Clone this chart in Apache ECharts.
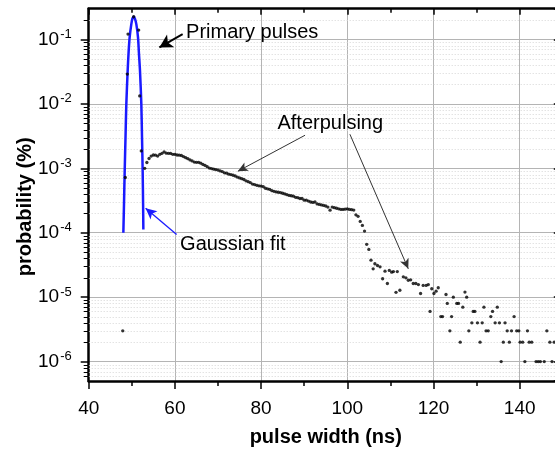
<!DOCTYPE html>
<html><head><meta charset="utf-8">
<script src="https://cdn.jsdelivr.net/npm/echarts@6/dist/echarts.min.js"></script>
<style>html,body{margin:0;padding:0;background:#fff;overflow:hidden}#c{width:555px;height:449px}</style>
</head><body><div id="c"></div><script>
// ---- data ----
const xTickValues = [40, 60, 80, 100, 120, 140];
const yDecades = [1e-6, 1e-5, 1e-4, 1e-3, 1e-2, 1e-1];
// measured primary pulse data (pulse width ns, probability %)
const primaryX = [47.9, 48.5, 48.96, 49.12, 50.43, 51.6, 51.83, 52.2];
const primaryY = [3e-6, 7.2e-4, 0.029, 0.121, 0.225, 0.14, 0.0133, 1.86e-3];
// afterpulsing data
const afterX = [53.0,53.5,54.0,54.5,55.0,55.5,56.0,56.5,57.0,57.5,58.0,58.5,59.0,59.5,60.0,60.5,61.0,61.5,62.0,62.5,63.0,63.5,64.0,64.5,65.0,65.5,66.0,66.5,67.0,67.5,68.0,68.5,69.0,69.5,70.0,70.5,71.0,71.5,72.0,72.5,73.0,73.5,74.0,74.5,75.0,75.5,76.0,76.5,77.0,77.5,78.0,78.5,79.0,79.5,80.0,80.5,81.0,81.5,82.0,82.5,83.0,83.5,84.0,84.5,85.0,85.5,86.0,86.5,87.0,87.5,88.0,88.5,89.0,89.5,90.0,90.5,91.0,91.5,92.0,92.5,93.0,93.5,94.0,94.5,95.0,95.5,96.0,96.5,97.0,97.5,98.0,98.5,99.0,99.5,100.0,100.5,101.0,101.5,102.0,102.5,103.0,103.5,104.0,104.5,105.0,105.5,106.0,106.4,107.0,107.6,108.2,108.75,109.3,109.75,110.3,110.7,111.3,111.6,112.2,113.0,113.6,114.15,114.7,115.3,115.9,116.5,117.0,117.6,118.3,118.8,119.2,119.6,120.1,120.6,121.1,121.7,122.1,122.9,123.2,123.8,124.2,124.6,125.4,125.8,126.2,126.8,127.3,127.7,128.2,128.9,129.2,129.6,130.2,130.8,131.3,131.7,132.2,132.7,133.3,133.7,134.3,134.8,135.3,135.7,136.2,136.6,137.1,137.6,138.1,138.7,139.3,139.8,140.1,140.7,141.2,141.8,142.2,142.8,143.8,144.3,144.8,145.7,146.3,147.0,147.5,148.0];
const afterY = [1.0e-3,1.23e-3,1.42e-3,1.55e-3,1.61e-3,1.6e-3,1.55e-3,1.65e-3,1.71e-3,1.8e-3,1.72e-3,1.71e-3,1.7e-3,1.65e-3,1.65e-3,1.61e-3,1.6e-3,1.58e-3,1.52e-3,1.46e-3,1.41e-3,1.35e-3,1.3e-3,1.25e-3,1.24e-3,1.24e-3,1.2e-3,1.15e-3,1.11e-3,1.06e-3,1.01e-3,0.99e-3,0.97e-3,0.955e-3,0.94e-3,0.91e-3,0.89e-3,0.85e-3,0.84e-3,0.81e-3,0.8e-3,0.78e-3,0.76e-3,0.73e-3,0.71e-3,0.69e-3,0.67e-3,0.64e-3,0.62e-3,0.6e-3,0.57e-3,0.56e-3,0.545e-3,0.535e-3,0.53e-3,0.52e-3,0.49e-3,0.48e-3,0.47e-3,0.45e-3,0.44e-3,0.43e-3,0.425e-3,0.42e-3,0.41e-3,0.4e-3,0.39e-3,0.38e-3,0.375e-3,0.37e-3,0.355e-3,0.35e-3,0.34e-3,0.34e-3,0.32e-3,0.32e-3,0.31e-3,0.3e-3,0.295e-3,0.3e-3,0.28e-3,0.275e-3,0.27e-3,0.265e-3,0.26e-3,0.25e-3,0.224e-3,0.25e-3,0.245e-3,0.24e-3,0.235e-3,0.23e-3,0.23e-3,0.232e-3,0.235e-3,0.23e-3,0.228e-3,0.225e-3,1.9e-4,1.8e-4,1.5e-4,1.3e-4,1.06e-4,6.6e-5,5.5e-5,3.75e-5,2.75e-5,3.3e-5,3.1e-5,2.96e-5,1.93e-5,2.53e-5,1.63e-5,2.6e-5,2.44e-5,2.5e-5,1.19e-5,2.5e-5,1.28e-5,2.07e-5,2.0e-5,1.83e-5,1.86e-5,1.63e-5,1.63e-5,1.57e-5,1.14e-5,1.52e-5,1.52e-5,1.57e-5,6e-6,1.35e-5,1.14e-5,1.24e-5,1.4e-5,5e-6,5e-6,1.1e-5,8e-6,3e-6,5e-6,1e-5,8e-6,8e-6,2e-6,7e-6,1.2e-5,1e-5,3e-6,4e-6,6e-6,6e-6,4e-6,2e-6,4e-6,7e-6,3e-6,3e-6,5e-6,6e-6,4e-6,7e-6,4e-6,1e-6,2e-6,4e-6,3e-6,2e-6,3e-6,5e-6,3e-6,3e-6,2e-6,2e-6,1e-6,3e-6,2e-6,2e-6,1e-6,1e-6,1e-6,1e-6,3e-6,2e-6,1e-6,2e-6];
// Gaussian fit curve as drawn
const fitX = [48.04,48.19,48.35,48.55,48.73,49.04,49.25,49.5,49.89,50.15,50.43,50.7,51.05,51.44,51.65,51.9,52.21,52.37,52.52,52.62,52.68];
const fitY = [1.0e-4,2.8e-4,9.1e-4,3.2e-3,9.9e-3,0.0326,0.062,0.108,0.173,0.212,0.225,0.212,0.173,0.108,0.062,0.0326,9.9e-3,3.0e-3,9.1e-4,2.8e-4,1.12e-4];
// log minor tick values (2..9 within each decade)
const minorMultipliers = [2,3,4,5,6,7,8,9];
const annotations = {
  primary: {text: 'Primary pulses', at: [62.6, 0.129], from: [61.8, 0.121], to: [56.4, 0.0753]},
  after: {text: 'Afterpulsing', at: [83.8, 5.0e-3], from1: [90.2, 3.26e-3], to1: [74.6, 9.0e-4], from2: [100.6, 3.38e-3], to2: [114.15, 2.75e-5]},
  gauss: {text: 'Gaussian fit', at: [61.2, 6.6e-5], from: [60.4, 9.4e-5], to: [53.2, 2.39e-4]}
};
const X_MIN = 40, X_MAX = 150, Y_MIN = 5e-7, Y_MAX = 0.3;

// ---- build ----
const FONT = "'Liberation Sans', Arial, sans-serif";
const minorVals = [];
[1e-7].concat(yDecades).forEach(d => minorMultipliers.forEach(m => {
  const v = m * d; if (v > Y_MIN && v < Y_MAX * 0.999) minorVals.push(v);
}));
const zip = (a, b) => a.map((v, i) => [v, b[i]]);

const chart = echarts.init(document.getElementById('c'), null, {renderer: 'canvas'});
function yLabel(v) {
  const e = Math.log10(v);
  if (Math.abs(e - Math.round(e)) > 1e-6) return '';
  return '{b|10}{s|' + Math.round(e) + '}';
}
const txt = (t, at) => ({coord: at, symbolSize: 0, label: {show: true, formatter: t, position: 'right', distance: 0, fontSize: 20, fontFamily: FONT, color: '#000'}});

chart.setOption({
  animation: false,
  backgroundColor: '#fff',
  grid: {left: 88.7, right: -7.8, top: 8.7, bottom: 68, outerBoundsMode: 'none', containLabel: false},
  xAxis: [{
    type: 'value', min: X_MIN, max: X_MAX, interval: 20, position: 'bottom',
    axisLine: {lineStyle: {color: '#000', width: 2.5}},
    axisTick: {inside: false, length: 8, lineStyle: {color: '#000', width: 1.5}},
    minorTick: {show: true, splitNumber: 2, length: 5, lineStyle: {color: '#000', width: 1.5}},
    axisLabel: {fontSize: 19, fontFamily: FONT, color: '#000', margin: 18, showMaxLabel: false},
    splitLine: {show: true, lineStyle: {color: '#b4b4b4', width: 1}},
    name: 'pulse width (ns)', nameLocation: 'middle', nameGap: 46,
    nameTextStyle: {fontSize: 20, fontWeight: 'bold', fontFamily: FONT, color: '#000'}
  }, {
    type: 'value', min: X_MIN, max: X_MAX, interval: 20, position: 'top',
    axisLine: {lineStyle: {color: '#000', width: 2.5}},
    axisTick: {inside: true, length: 6, lineStyle: {color: '#000', width: 1.5}},
    minorTick: {show: true, splitNumber: 2, length: 4, lineStyle: {color: '#000', width: 1.5}},
    axisLabel: {show: false}, splitLine: {show: false}
  }],
  yAxis: [{
    type: 'log', logBase: 10, min: Y_MIN, max: Y_MAX, position: 'left',
    axisLine: {lineStyle: {color: '#000', width: 2.5}},
    axisTick: {inside: false, length: 8, lineStyle: {color: '#000', width: 1.5}},
    axisLabel: {formatter: yLabel, margin: 17, showMinLabel: false, showMaxLabel: false, color: '#000',
      rich: {b: {fontSize: 19, fontFamily: FONT, color: '#000'}, s: {fontSize: 13, fontFamily: FONT, color: '#000', padding: [0, 0, 10, 1]}}},
    splitLine: {show: true, lineStyle: {color: '#b4b4b4', width: 1}},
    name: 'probability (%)', nameLocation: 'middle', nameGap: 53, nameRotate: 90, nameMoveOverlap: false,
    nameTextStyle: {fontSize: 20, fontWeight: 'bold', fontFamily: FONT, color: '#000', padding: [0, 24, 0, 0]}
  }, {
    type: 'log', logBase: 10, min: Y_MIN, max: Y_MAX, position: 'right',
    axisLine: {lineStyle: {color: '#000', width: 2.5}},
    axisTick: {inside: true, length: 9, lineStyle: {color: '#000', width: 1.5}},
    axisLabel: {show: false}, splitLine: {show: false}
  }],
  series: [{
    type: 'custom', xAxisIndex: 0, yAxisIndex: 0, z: 1, clip: false, silent: true,
    data: minorVals.map(v => [X_MIN, v]),
    renderItem: (params, api) => {
      const v = api.value(1);
      const p1 = api.coord([X_MIN, v]), p2 = api.coord([X_MAX, v]);
      const y = Math.round(p1[1]) + 0.5;
      return {type: 'group', children: [
        {type: 'line', shape: {x1: p1[0], y1: y, x2: p2[0], y2: y}, style: {stroke: '#d6d6d6', lineWidth: 1, lineDash: [1, 2]}},
        {type: 'line', shape: {x1: p1[0] - 5, y1: y, x2: p1[0], y2: y}, style: {stroke: '#000', lineWidth: 1}},
        {type: 'line', shape: {x1: p2[0] - 5, y1: y, x2: p2[0], y2: y}, style: {stroke: '#000', lineWidth: 1}}
      ]};
    }
  }, {
    type: 'line', name: 'fit', data: zip(fitX, fitY), symbol: 'none', smooth: 0.3, z: 3,
    lineStyle: {color: '#1a1aff', width: 2.5},
    markLine: {silent: true, symbol: ['none', 'arrow'], symbolSize: [8, 11],
      lineStyle: {color: '#1a1aff', width: 1.3, type: 'solid'}, label: {show: false},
      data: [[{coord: annotations.gauss.from}, {coord: annotations.gauss.to}]]}
  }, {
    type: 'scatter', name: 'data', data: zip(primaryX, primaryY).concat(zip(afterX, afterY)),
    symbol: 'circle', symbolSize: 3.3, itemStyle: {color: '#000'}, z: 4,
    markLine: {silent: true, symbol: ['none', 'arrow'], label: {show: false},
      data: [
        [{coord: annotations.primary.from, lineStyle: {width: 2, color: '#000', type: 'solid'}, symbolSize: [11, 13]}, {coord: annotations.primary.to, symbolSize: [11, 13]}],
        [{coord: annotations.after.from1, lineStyle: {width: 1, color: '#333', type: 'solid'}}, {coord: annotations.after.to1, symbolSize: [7, 10]}],
        [{coord: annotations.after.from2, lineStyle: {width: 1, color: '#333', type: 'solid'}}, {coord: annotations.after.to2, symbolSize: [7, 10]}]
      ]},
    markPoint: {silent: true, symbol: 'circle', symbolSize: 0,
      data: [txt(annotations.primary.text, annotations.primary.at), txt(annotations.after.text, annotations.after.at), txt(annotations.gauss.text, annotations.gauss.at)]}
  }]
});
</script></body></html>
